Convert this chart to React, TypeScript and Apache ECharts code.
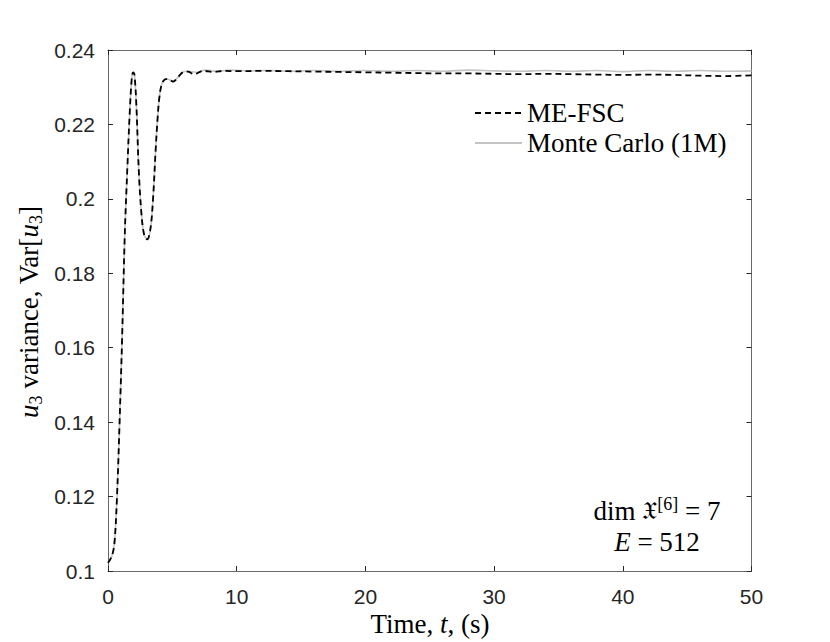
import React, { useEffect, useRef } from "react";
import * as echarts from "echarts";

// ME-FSC (dashed black)
const tME = [0, 0.3, 0.5, 0.7, 0.9, 1.1, 1.3, 1.5, 1.7, 1.85, 1.95, 2.05, 2.2, 2.4, 2.6, 2.8, 3.05, 3.3, 3.5, 3.7, 3.85, 4.0, 4.2, 4.5, 4.8, 5.05, 5.4, 5.8, 6.2, 6.7, 7.4, 8.2, 9, 10, 12, 14, 16, 18, 20, 22, 24, 26, 28, 30, 32, 34, 36, 38, 40, 42, 44, 46, 48, 50];
const vME = [0.1022, 0.104, 0.1075, 0.12, 0.14, 0.163, 0.19, 0.208, 0.224, 0.2325, 0.234, 0.2335, 0.2255, 0.207, 0.196, 0.1905, 0.1891, 0.192, 0.2, 0.213, 0.2215, 0.2275, 0.231, 0.2322, 0.232, 0.2315, 0.2325, 0.234, 0.2342, 0.2335, 0.2344, 0.2341, 0.2344, 0.2343, 0.2344, 0.2343, 0.2342, 0.2341, 0.234, 0.2339, 0.2338, 0.2337, 0.2337, 0.2336, 0.2335, 0.2336, 0.2335, 0.2334, 0.2333, 0.2334, 0.2333, 0.2331, 0.233, 0.2332];

// Monte Carlo (1M) (solid light gray)
const tMC = [0, 0.3, 0.5, 0.7, 0.9, 1.1, 1.3, 1.5, 1.7, 1.85, 1.95, 2.05, 2.2, 2.4, 2.6, 2.8, 3.05, 3.3, 3.5, 3.7, 3.85, 4.0, 4.2, 4.5, 4.8, 5.05, 5.4, 5.8, 6.2, 7, 7.5, 8.5, 9.5, 11, 12.5, 14, 16, 18, 20, 22, 24, 26, 28, 30, 32, 34, 36, 38, 40, 42, 44, 46, 48, 50];
const vMC = [0.1022, 0.104, 0.1075, 0.12, 0.14, 0.163, 0.19, 0.208, 0.224, 0.2325, 0.234, 0.2335, 0.2255, 0.207, 0.196, 0.1905, 0.1891, 0.192, 0.2, 0.213, 0.2215, 0.2275, 0.231, 0.2322, 0.232, 0.2315, 0.2325, 0.234, 0.2343, 0.234, 0.2346, 0.2343, 0.2346, 0.2344, 0.2345, 0.2343, 0.2345, 0.2343, 0.2345, 0.2343, 0.2345, 0.2343, 0.2346, 0.2344, 0.2343, 0.2345, 0.2343, 0.2345, 0.2342, 0.2345, 0.2343, 0.2345, 0.2343, 0.2344];

const seriesNames = ["ME-FSC", "Monte Carlo (1M)"];

const SERIF = "'Liberation Serif', 'Times New Roman', serif";
const SANS = "'Liberation Sans', Arial, Helvetica, sans-serif";
const AX = "#262626";
const BOX = "#6a6a6a";
const FS = 27;

function pairs(t: number[], v: number[]) {
  return t.map((x, i) => [x, v[i]]);
}

export default function App() {
  const ref = useRef<HTMLDivElement>(null);
  useEffect(() => {
    if (!ref.current) return;
    const chart = echarts.init(ref.current, undefined, { renderer: "svg" });
    const tick = { show: true, inside: true, length: 5, lineStyle: { color: AX, width: 1 } };
    const line = { show: true, onZero: false, lineStyle: { color: BOX, width: 1 } };
    const xLab = { show: true, margin: 15, fontFamily: SANS, fontSize: 21, color: AX };
    const yLab = {
      show: true, margin: 13, fontFamily: SANS, fontSize: 21, color: AX,
      formatter: (v: number) => String(parseFloat(v.toFixed(2))),
    };
    chart.setOption({
      animation: false,
      backgroundColor: "#ffffff",
      grid: { left: 108, top: 50, width: 643.5, height: 521, containLabel: false },
      xAxis: [
        { type: "value", min: 0, max: 50, interval: 10, position: "bottom", axisLine: line, axisTick: tick, axisLabel: xLab, splitLine: { show: false } },
        { type: "value", min: 0, max: 50, interval: 10, position: "top", axisLine: line, axisTick: tick, axisLabel: { show: false }, splitLine: { show: false } },
      ],
      yAxis: [
        { type: "value", min: 0.1, max: 0.24, interval: 0.02, position: "left", axisLine: line, axisTick: tick, axisLabel: yLab, splitLine: { show: false } },
        { type: "value", min: 0.1, max: 0.24, interval: 0.02, position: "right", axisLine: line, axisTick: tick, axisLabel: { show: false }, splitLine: { show: false } },
      ],
      legend: {
        data: seriesNames,
        orient: "vertical",
        left: 474,
        top: 98,
        padding: 0,
        itemGap: 0,
        itemWidth: 47,
        itemHeight: 14,
        itemStyle: { opacity: 0 },
        textStyle: { fontFamily: SERIF, fontSize: FS, color: "#000", lineHeight: 30 },
      },
      series: [
        {
          name: seriesNames[1],
          type: "line",
          xAxisIndex: 0,
          yAxisIndex: 0,
          data: pairs(tMC, vMC),
          symbol: "none",
          smooth: 0.35,
          lineStyle: { color: "#c4c4c4", width: 1.6, type: "solid" },
          itemStyle: { color: "#c4c4c4" },
          z: 2,
        },
        {
          name: seriesNames[0],
          type: "line",
          xAxisIndex: 0,
          yAxisIndex: 0,
          data: pairs(tME, vME),
          symbol: "none",
          smooth: 0.35,
          lineStyle: { color: "#000", width: 1.8, type: [6, 4] },
          itemStyle: { color: "#000" },
          z: 3,
        },
      ],
      graphic: [
        {
          type: "text",
          x: 430,
          y: 624,
          style: {
            text: "{n|Time, }{i|t}{n|, (s)}",
            align: "center",
            verticalAlign: "middle",
            rich: {
              n: { fontFamily: SERIF, fontSize: FS, fill: "#000" },
              i: { fontFamily: SERIF, fontSize: FS, fontStyle: "italic", fill: "#000" },
            },
          },
        },
        {
          type: "text",
          x: 29,
          y: 312,
          rotation: Math.PI / 2,
          style: {
            text: "{i|u}{s|3}{n| variance, Var[}{i|u}{s|3}{n|]}",
            align: "center",
            verticalAlign: "middle",
            rich: {
              n: { fontFamily: SERIF, fontSize: FS, fill: "#000", lineHeight: 32 },
              i: { fontFamily: SERIF, fontSize: FS, fontStyle: "italic", fill: "#000", lineHeight: 32 },
              s: { fontFamily: SERIF, fontSize: 18, fill: "#000", verticalAlign: "bottom", lineHeight: 23 },
            },
          },
        },
        {
          type: "text",
          x: 657,
          y: 526,
          style: {
            text: "{n|dim }{f|𝔛}{p|[6]}{n| = 7}\n{i|E}{n| = 512}",
            align: "center",
            verticalAlign: "middle",
            rich: {
              n: { fontFamily: SERIF, fontSize: FS, fill: "#000", lineHeight: 31 },
              i: { fontFamily: SERIF, fontSize: FS, fontStyle: "italic", fill: "#000", lineHeight: 31 },
              f: { fontFamily: "'DejaVu Serif', 'DejaVu Sans', 'Noto Sans', serif", fontSize: 25, fill: "#000", lineHeight: 31 },
              p: { fontFamily: SERIF, fontSize: 18, fill: "#000", verticalAlign: "top", lineHeight: 23 },
            },
          },
        },
      ],
    });
    return () => chart.dispose();
  }, []);
  return <div ref={ref} style={{ position: "fixed", left: 0, top: 0, width: 830, height: 642 }} />;
}
